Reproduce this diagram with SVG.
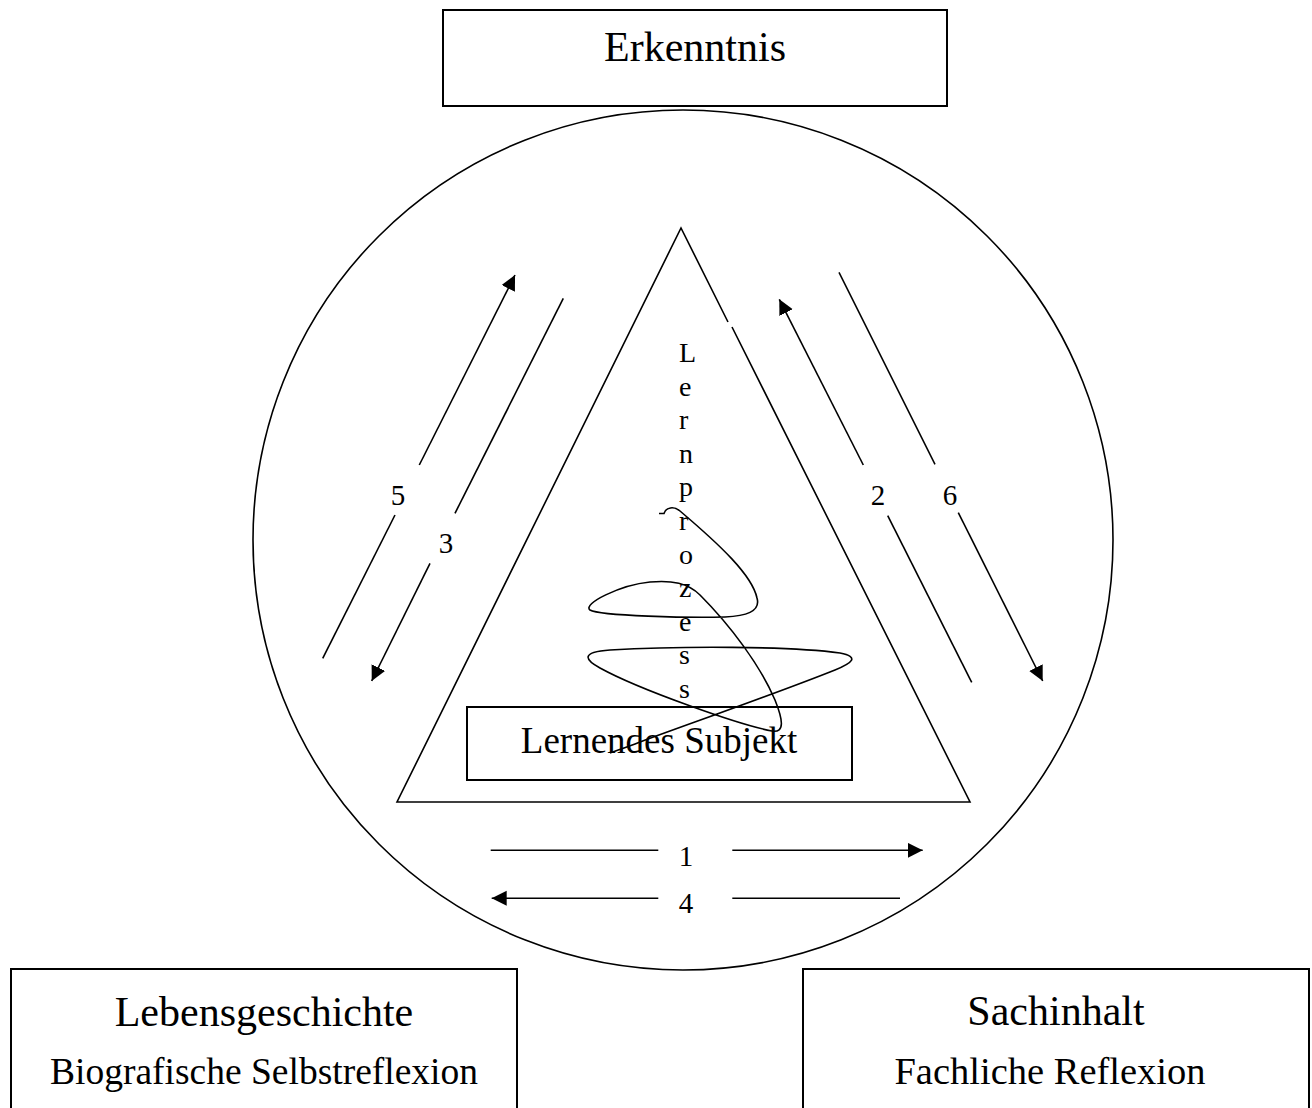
<svg xmlns="http://www.w3.org/2000/svg" width="1312" height="1108" viewBox="0 0 1312 1108">
<style>
.box{fill:none;stroke:#000;stroke-width:2}
.ln{fill:none;stroke:#000;stroke-width:1.6}
.t{font-family:"Liberation Serif","Times New Roman",serif;fill:#000;text-anchor:middle}
.v{font-family:"Liberation Serif","Times New Roman",serif;fill:#000;font-size:28px}
</style>
<defs>
<marker id="ah" markerUnits="userSpaceOnUse" markerWidth="16" markerHeight="16" refX="15" refY="7.5" orient="auto">
<path d="M0,0 L15,7.5 L0,15 Z" fill="#000"/>
</marker>
</defs>
<rect width="1312" height="1108" fill="#fff"/>

<g id="erkenntnis">
<rect class="box" x="443" y="10" width="504" height="96"/>
<text class="t" x="695" y="61" font-size="42">Erkenntnis</text>
</g>

<g id="kreis">
<circle class="ln" cx="683" cy="540" r="430"/>
</g>

<g id="dreieck">
<path class="ln" d="M728,322 L681,228 L397,802 L970,802 L732,327"/>
</g>

<g id="lernendes-subjekt">
<rect class="box" x="467" y="707" width="385" height="73"/>
<text class="t" x="659" y="753" font-size="37">Lernendes Subjekt</text>
</g>

<g id="lernprozess">
<text class="v" x="679" y="362">L</text>
<text class="v" x="679" y="395.6">e</text>
<text class="v" x="679" y="429.2">r</text>
<text class="v" x="679" y="462.8">n</text>
<text class="v" x="679" y="496.4">p</text>
<text class="v" x="679" y="530">r</text>
<text class="v" x="679" y="563.6">o</text>
<text class="v" x="679" y="597.2">z</text>
<text class="v" x="679" y="630.8">e</text>
<text class="v" x="679" y="664.4">s</text>
<text class="v" x="679" y="698">s</text>
<path class="ln" stroke-width="2" d="M659,513.5 L664,513.5 C666,507 674,506 680,511 C720,545 752,575 757,598 C761,612 745,616 725,617 C690,618 600,616 590,610 C582,604 620,585 650,582 C672,580 688,583 700,595 C730,625 760,665 775,700 C783,720 785,733 772,731 C740,725 640,690 600,668 C585,660 580,652 610,650 C680,646 790,646 840,653 C860,657 852,663 835,670 C780,692 700,720 640,742 C625,748 615,751 610,753"/>
</g>

<g id="lebensgeschichte">
<rect class="box" x="11" y="969" width="506" height="160"/>
<text class="t" x="264" y="1026" font-size="42">Lebensgeschichte</text>
<text class="t" x="264" y="1084" font-size="37.5">Biografische Selbstreflexion</text>
</g>

<g id="sachinhalt">
<rect class="box" x="803" y="969" width="506" height="160"/>
<text class="t" x="1056" y="1025" font-size="42">Sachinhalt</text>
<text class="t" x="1050" y="1084" font-size="38.5">Fachliche Reflexion</text>
</g>

<g id="connectors">
<!-- 5 -->
<line class="ln" x1="322.7" y1="658.3" x2="395" y2="515"/>
<line class="ln" x1="419.3" y1="465" x2="515" y2="275" marker-end="url(#ah)"/>
<!-- 3 -->
<line class="ln" x1="563.3" y1="298.3" x2="455" y2="513.3"/>
<line class="ln" x1="430" y1="563.3" x2="371.7" y2="681" marker-end="url(#ah)"/>
<!-- 2 -->
<line class="ln" x1="971.7" y1="682.3" x2="887.7" y2="515.7"/>
<line class="ln" x1="863.3" y1="465" x2="779.3" y2="299.3" marker-end="url(#ah)"/>
<!-- 6 -->
<line class="ln" x1="839" y1="272.3" x2="935" y2="464.3"/>
<line class="ln" x1="958.3" y1="512.7" x2="1042.7" y2="681" marker-end="url(#ah)"/>
<!-- 1 -->
<line class="ln" x1="490.7" y1="850.3" x2="658.3" y2="850.3"/>
<line class="ln" x1="732.3" y1="850.3" x2="922.7" y2="850.3" marker-end="url(#ah)"/>
<!-- 4 -->
<line class="ln" x1="900" y1="898.3" x2="732.3" y2="898.3"/>
<line class="ln" x1="658.3" y1="898.3" x2="491.7" y2="898.3" marker-end="url(#ah)"/>
</g>

<g id="labels">
<text class="t" x="398" y="505" font-size="29">5</text>
<text class="t" x="446" y="553" font-size="29">3</text>
<text class="t" x="878" y="505" font-size="29">2</text>
<text class="t" x="950" y="505" font-size="29">6</text>
<text class="t" x="686" y="866" font-size="29">1</text>
<text class="t" x="686" y="913" font-size="29">4</text>
</g>
</svg>
